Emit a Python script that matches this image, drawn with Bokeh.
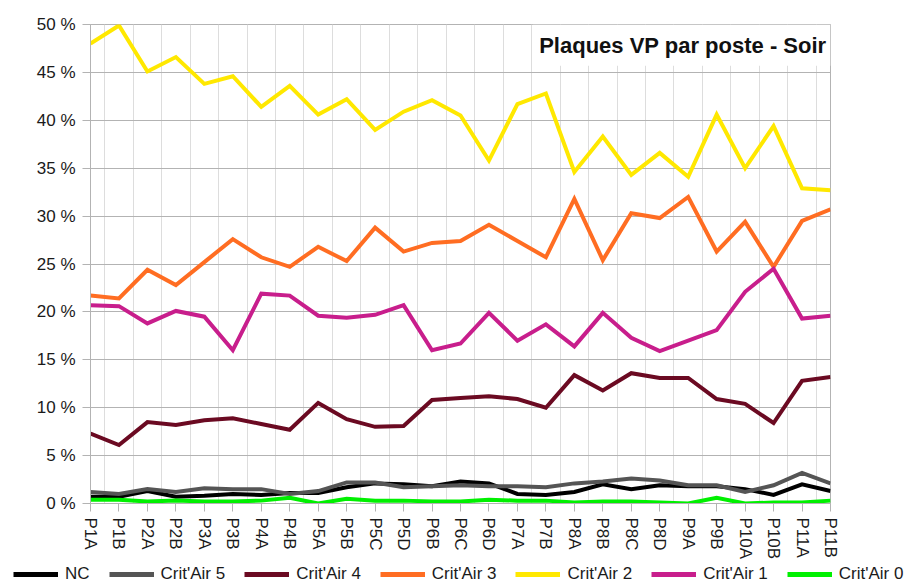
from bokeh.plotting import figure
from bokeh.layouts import column
from bokeh.models import Range1d, FixedTicker, Legend, LegendItem, Label, BoxAnnotation
from bokeh.embed import file_html
from bokeh.resources import INLINE

postes = ["P1A", "P1B", "P2A", "P2B", "P3A", "P3B", "P4A", "P4B", "P5A", "P5B",
          "P5C", "P5D", "P6B", "P6C", "P6D", "P7A", "P7B", "P8A", "P8B", "P8C",
          "P8D", "P9A", "P9B", "P10A", "P10B", "P11A", "P11B"]

nc = [0.7, 0.7, 1.3, 0.7, 0.8, 1.0, 0.9, 1.1, 1.1, 1.7, 2.1, 2.0, 1.8, 2.3,
      2.1, 1.0, 0.9, 1.2, 2.0, 1.5, 1.9, 1.8, 1.8, 1.5, 0.9, 2.0, 1.3]
critair5 = [1.2, 1.0, 1.5, 1.2, 1.6, 1.5, 1.5, 1.0, 1.3, 2.2, 2.2, 1.7, 1.8, 1.9,
            1.8, 1.8, 1.7, 2.1, 2.3, 2.6, 2.4, 1.9, 1.9, 1.2, 1.9, 3.2, 2.1]
critair4 = [7.3, 6.1, 8.5, 8.2, 8.7, 8.9, 8.3, 7.7, 10.5, 8.8, 8.0, 8.1, 10.8, 11.0,
            11.2, 10.9, 10.0, 13.4, 11.8, 13.6, 13.1, 13.1, 10.9, 10.4, 8.4, 12.8, 13.2]
critair3 = [21.7, 21.4, 24.4, 22.8, 25.2, 27.6, 25.7, 24.7, 26.8, 25.3, 28.8, 26.3, 27.2, 27.4,
            29.1, 27.4, 25.7, 31.8, 25.4, 30.3, 29.8, 32.0, 26.3, 29.4, 24.7, 29.5, 30.7]
critair2 = [48.0, 49.9, 45.1, 46.6, 43.8, 44.6, 41.4, 43.6, 40.6, 42.2, 39.0, 40.9, 42.1, 40.5,
            35.8, 41.7, 42.8, 34.6, 38.3, 34.3, 36.6, 34.1, 40.6, 35.0, 39.4, 32.9, 32.7]
critair1 = [20.7, 20.6, 18.8, 20.1, 19.5, 16.0, 21.9, 21.7, 19.6, 19.4, 19.7, 20.7, 16.0, 16.7,
            19.9, 17.0, 18.7, 16.4, 19.9, 17.3, 15.9, 17.0, 18.1, 22.1, 24.5, 19.3, 19.6]
critair0 = [0.4, 0.4, 0.2, 0.3, 0.2, 0.2, 0.3, 0.6, 0.0, 0.5, 0.3, 0.3, 0.2, 0.2,
            0.4, 0.3, 0.3, 0.1, 0.2, 0.2, 0.1, 0.0, 0.6, 0.0, 0.1, 0.1, 0.3]

series_names = ["NC", "Crit'Air 5", "Crit'Air 4", "Crit'Air 3", "Crit'Air 2", "Crit'Air 1", "Crit'Air 0"]
series_values = [nc, critair5, critair4, critair3, critair2, critair1, critair0]
series_colors = ["#000000", "#555555", "#6b0a22", "#ff6d22", "#ffe800", "#c81e8c", "#00f000"]

y_ticks = [0, 5, 10, 15, 20, 25, 30, 35, 40, 45, 50]
y_tick_labels = [f"{v} %" for v in y_ticks]
title_text = "Plaques VP par poste - Soir"

FONT = "Liberation Sans"
GRID_H = "#b3b3b3"
GRID_V = "#dddddd"

x_idx = list(range(len(postes)))

# ---------------- main chart ----------------
p = figure(width=918, height=563,
           x_range=Range1d(0, len(postes) - 1), y_range=Range1d(0, 50),
           output_backend="svg", toolbar_location=None,
           min_border_left=90, min_border_right=88,
           min_border_top=24, min_border_bottom=60)
p.frame_align = False

p.background_fill_color = "white"
p.border_fill_color = "white"
p.outline_line_color = GRID_H
p.outline_line_width = 1

p.xaxis.ticker = FixedTicker(ticks=x_idx)
p.xaxis.major_label_overrides = {i: name for i, name in enumerate(postes)}
p.xaxis.major_label_orientation = "vertical"
p.yaxis.ticker = FixedTicker(ticks=y_ticks)
p.yaxis.major_label_overrides = {v: lab for v, lab in zip(y_ticks, y_tick_labels)}

for ax in (p.xaxis[0], p.yaxis[0]):
    ax.axis_line_color = GRID_H
    ax.major_tick_line_color = GRID_H
    ax.minor_tick_line_color = None
    ax.major_tick_in = 0
    ax.major_tick_out = 8
    ax.major_label_text_font = FONT
    ax.major_label_text_font_size = "17px"
    ax.major_label_text_color = "#1a1a1a"
    ax.major_label_standoff = 7
p.xaxis.major_label_standoff = 6

p.xgrid.ticker = FixedTicker(ticks=[i + 0.5 for i in range(len(postes) - 1)])
p.xgrid.grid_line_color = GRID_V
p.xgrid.grid_line_width = 1
p.ygrid.ticker = FixedTicker(ticks=y_ticks)
p.ygrid.grid_line_color = GRID_H
p.ygrid.grid_line_width = 1

for name, vals, col in zip(series_names, series_values, series_colors):
    p.line(x_idx, vals, line_color=col, line_width=4, line_join="miter")

p.add_layout(BoxAnnotation(left=15.53, right=len(postes) - 1, bottom=45.7, top=50,
                           fill_color="white", fill_alpha=1.0, line_color=None))
p.add_layout(Label(x=len(postes) - 1, y=50, x_offset=-4, y_offset=-21,
                   text=title_text, text_align="right", text_baseline="middle",
                   text_font=FONT, text_font_style="bold", text_font_size="22px",
                   text_color="#111111"))

# ---------------- legend strip ----------------
lg = figure(width=918, height=21, x_range=Range1d(1000, 1001), y_range=Range1d(1000, 1001),
            output_backend="svg", toolbar_location=None,
            x_axis_location=None, y_axis_location=None,
            min_border_left=0, min_border_right=0, min_border_top=0, min_border_bottom=0)
lg.frame_align = False
lg.grid.visible = False
lg.outline_line_color = None
lg.background_fill_color = "white"
lg.border_fill_color = "white"

items = []
for name, vals, col in zip(series_names, series_values, series_colors):
    r = lg.line(x_idx, vals, line_color=col, line_width=5)
    items.append(LegendItem(label=name, renderers=[r]))

legend = Legend(items=items, location=(13, 0), orientation="horizontal",
                glyph_width=45, glyph_height=20, label_standoff=7, label_width=0,
                spacing=19, padding=0, margin=0,
                border_line_color=None, background_fill_alpha=0,
                label_text_font=FONT, label_text_font_size="17px",
                label_text_color="#1a1a1a")
lg.add_layout(legend)

layout = column(p, lg, spacing=0)
open("out.html", "w").write(file_html(layout, INLINE))
